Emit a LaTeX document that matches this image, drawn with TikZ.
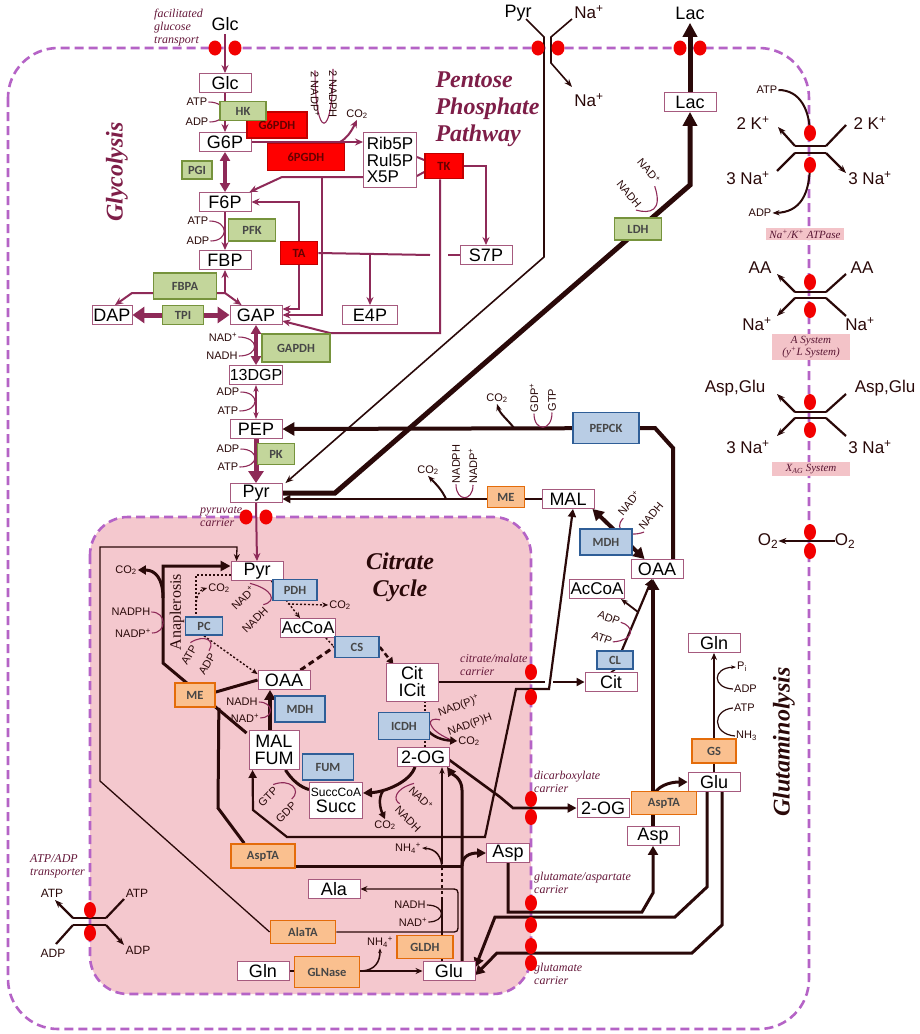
\documentclass[tikz,border=0pt]{standalone}
\usepackage{fontspec}
\setmainfont{Liberation Sans}
\newfontfamily\titlefont{Liberation Serif}
\newfontfamily\enzfont{Carlito}
\usetikzlibrary{arrows.meta,positioning,calc}
\definecolor{membr}{HTML}{B563C6}
\definecolor{mitopink}{HTML}{F4C8CE}
\definecolor{metline}{HTML}{A65A7E}
\definecolor{glyc}{HTML}{8E2A58}
\definecolor{dk}{HTML}{2A0909}
\definecolor{ttl}{HTML}{7E1E48}
\definecolor{greenfill}{HTML}{C3D69B}
\definecolor{greenline}{HTML}{76933C}
\definecolor{redfill}{HTML}{FF0000}
\definecolor{redline}{HTML}{C00000}
\definecolor{bluefill}{HTML}{B9CDE5}
\definecolor{blueline}{HTML}{2F5E97}
\definecolor{orangefill}{HTML}{FAC08F}
\definecolor{orangeline}{HTML}{E46C0A}
\definecolor{tagpink}{HTML}{F3C3C8}
\definecolor{blob}{HTML}{F20000}
\pgfdeclarelayer{bg}
\pgfdeclarelayer{links}
\pgfsetlayers{bg,links,main}
\tikzset{
  metbox/.style={draw=metline, fill=white, line width=0.9pt, inner sep=0pt,
    minimum width=52pt, minimum height=19pt, font=\fontsize{18}{18}\selectfont},
  enzbox/.style={draw, line width=1.7pt, inner sep=0pt,
    font=\enzfont\bfseries\fontsize{12.5}{12.5}\selectfont, text=black!72},
  greenenz/.style={enzbox, fill=greenfill, draw=greenline},
  redenz/.style={enzbox, fill=redfill, draw=redline, text=red!40!black},
  blueenz/.style={enzbox, fill=bluefill, draw=blueline},
  orangeenz/.style={enzbox, fill=orangefill, draw=orangeline},
  cofac/.style={font=\fontsize{11}{11}\selectfont, text=dk, inner sep=1pt},
  cofline/.style={draw=glyc, line width=1.1pt},
  glyarr/.style={draw=glyc, line width=2pt, -{Stealth[length=8pt,width=7pt]}},
  glyline/.style={draw=glyc, line width=2pt},
  darkarr/.style={draw=dk, line width=2.2pt, -{Triangle[length=8pt,width=8pt]}},
  darkline/.style={draw=dk, line width=3pt},
  thinarr/.style={draw=dk, line width=1.3pt, -{Stealth[length=7pt,width=6pt]}},
  dotline/.style={draw=dk, line width=1.4pt, dash pattern=on 2pt off 2pt},
  dotarr/.style={dotline, -{Stealth[length=6pt,width=5pt]}},
  membrane/.style={draw=membr, line width=2.6pt, dash pattern=on 9pt off 5pt},
  redblob/.style={fill=blob, draw=none},
  carrier/.style={font=\titlefont\itshape\fontsize{12}{13}\selectfont, text=ttl!80!black,
    align=left, inner sep=0pt},
  tagbox/.style={fill=tagpink, inner sep=2pt, font=\titlefont\itshape\fontsize{11}{12}\selectfont,
    text=ttl!70!black, align=center, minimum width=78pt},
  ion/.style={font=\fontsize{17}{17}\selectfont, text=dk, inner sep=0pt},
  pathtitle/.style={font=\titlefont\bfseries\itshape\fontsize{24}{27}\selectfont, text=ttl, align=left},
}
\newcommand{\chanH}[2]{%
  \fill[redblob] ({#1-10},#2) ellipse[x radius=6.5pt, y radius=7.5pt];
  \fill[redblob] ({#1+10},#2) ellipse[x radius=6.5pt, y radius=7.5pt];}
\newcommand{\chanV}[3]{%
  \fill[redblob] (#1,#2) ellipse[x radius=6pt, y radius=8pt];
  \fill[redblob] (#1,#3) ellipse[x radius=6pt, y radius=8pt];}

\begin{document}
\begin{tikzpicture}[x=1pt,y=-1pt]
\useasboundingbox (0,0) rectangle (920,1034);
\begin{pgfonlayer}{bg}
  \fill[white] (0,0) rectangle (920,1034);
  \draw[membrane, rounded corners=50pt] (8,48) rectangle (809,1029);
  \draw[membrane, fill=mitopink, rounded corners=38pt] (90,517) rectangle (531,994);
\end{pgfonlayer}

% titles
\node[pathtitle, anchor=west] (ppptitle) at (432,109) {Pentose\\Phosphate\\Pathway};
\node[pathtitle, rotate=90] (glytitle) at (117,172) {Glycolysis};
\node[pathtitle, text=dk, align=center] (tcatitle) at (400,577) {Citrate\\Cycle};
\node[pathtitle, text=dk, rotate=90] (glntitle) at (784,742) {Glutaminolysis};
\node[font=\titlefont\fontsize{16}{16}\selectfont, text=dk, rotate=90] (anaptitle) at (177,612) {Anaplerosis};

% carrier labels
\node[carrier, anchor=west] (glcport) at (154,28) {facilitated\\glucose\\transport};
\node[carrier, anchor=west] (pyrport) at (200,517) {pyruvate\\carrier};
\node[carrier, anchor=west] (citport) at (460,665) {citrate/malate\\carrier};
\node[carrier, anchor=west] (dicport) at (534,782) {dicarboxylate\\carrier};
\node[carrier, anchor=west] (gaport) at (534,883) {glutamate/aspartate\\carrier};
\node[carrier, anchor=west] (gluport) at (534,974) {glutamate\\carrier};
\node[carrier, anchor=west] (atpport) at (30,866) {ATP/ADP\\transporter};

% glycolysis and pentose phosphate
\node[font=\fontsize{18}{18}\selectfont] (glcout) at (225,24) {Glc};
\node[metbox] (glc) at (225,83) {Glc};
\node[metbox] (g6p) at (225,142) {G6P};
\node[metbox] (f6p) at (225,202) {F6P};
\node[metbox] (fbp) at (225,260) {FBP};
\node[metbox, minimum width=40pt] (dap) at (112,315) {DAP};
\node[metbox] (gap) at (256,315) {GAP};
\node[metbox, minimum width=55pt] (e4p) at (370,315) {E4P};
\node[metbox, font=\fontsize{16}{16}\selectfont] (dgp) at (256,375) {13DGP};
\node[metbox] (pep) at (256,429) {PEP};
\node[metbox] (pyr) at (256,493) {Pyr};
\node[metbox, align=left, font=\fontsize{17}{16.5}\selectfont, minimum width=53pt, minimum height=55pt] (pentp) at (390,160) {Rib5P\\Rul5P\\X5P};
\node[metbox] (s7p) at (486,255) {S7P};

\node[redenz, minimum width=60pt, minimum height=26pt] (g6pdh) at (277,125) {G6PDH};
\node[redenz, minimum width=77pt, minimum height=27pt] (pgdh) at (306,157) {6PGDH};
\node[greenenz, minimum width=46pt, minimum height=19pt] (hk) at (243,111) {HK};
\node[greenenz, minimum width=30pt, minimum height=18pt] (pgi) at (197,170) {PGI};
\node[redenz, minimum width=38pt, minimum height=25pt] (tk) at (444,166) {TK};
\node[greenenz, minimum width=47pt, minimum height=22pt] (pfk) at (252,230) {PFK};
\node[redenz, minimum width=37pt, minimum height=23pt] (ta) at (299,253) {TA};
\node[greenenz, minimum width=63pt, minimum height=26pt] (fbpa) at (185,286) {FBPA};
\node[greenenz, minimum width=41pt, minimum height=19pt] (tpi) at (183,315) {TPI};
\node[greenenz, minimum width=68pt, minimum height=28pt] (gapdh) at (296,348) {GAPDH};
\node[greenenz, minimum width=37pt, minimum height=21pt] (pk) at (276,454) {PK};

\node[cofac] (atphk) at (197,102) {ATP};
\node[cofac] (adphk) at (197,122) {ADP};
\node[cofac, rotate=-90] (nadpa) at (315,94) {2 NADP\textsuperscript{+}};
\node[cofac, rotate=-90] (nadpha) at (333,94) {2 NADPH};
\node[cofac] (co2ppp) at (357,114) {CO\textsubscript{2}};
\node[cofac] (atppfk) at (198,221) {ATP};
\node[cofac] (adppfk) at (198,241) {ADP};
\node[cofac] (nadgap) at (223,337) {NAD\textsuperscript{+}};
\node[cofac] (nadhgap) at (222,356) {NADH};
\node[cofac] (adppgk) at (228,392) {ADP};
\node[cofac] (atppgk) at (228,411) {ATP};
\node[cofac] (adppk) at (228,449) {ADP};
\node[cofac] (atppk) at (228,467) {ATP};

% cytosol
\node[font=\fontsize{18}{18}\selectfont] (pyrout) at (518,13) {Pyr};
\node[ion] (naout) at (589,12) {Na\textsuperscript{+}};
\node[ion] (nain) at (589,100) {Na\textsuperscript{+}};
\node[font=\fontsize{18}{18}\selectfont] (lacout) at (690,13) {Lac};
\node[metbox] (lac) at (690,102) {Lac};
\node[greenenz, minimum width=47pt, minimum height=22pt] (ldh) at (638,229) {LDH};
\node[cofac, rotate=-50] (nadldh) at (649,171) {NAD\textsuperscript{+}};
\node[cofac, rotate=-50] (nadhldh) at (629,194) {NADH};
\node[blueenz, minimum width=66pt, minimum height=31pt] (pepck) at (606,428) {PEPCK};
\node[cofac] (co2pepck) at (497,398) {CO\textsubscript{2}};
\node[cofac, rotate=90] (gdppepck) at (534,398) {GDP\textsuperscript{+}};
\node[cofac, rotate=90] (gtppepck) at (552,400) {GTP};
\node[orangeenz, minimum width=37pt, minimum height=21pt] (mec) at (506,497) {ME};
\node[metbox] (mal) at (568,499) {MAL};
\node[cofac] (co2mec) at (428,470) {CO\textsubscript{2}};
\node[cofac, rotate=90] (nadphmec) at (456,464) {NADPH};
\node[cofac, rotate=90] (nadpmec) at (473,466) {NADP\textsuperscript{+}};
\node[blueenz, minimum width=52pt, minimum height=26pt] (mdhc) at (606,542) {MDH};
\node[metbox] (oaa) at (657,569) {OAA};
\node[cofac, rotate=50] (nadmdhc) at (629,503) {NAD\textsuperscript{+}};
\node[cofac, rotate=50] (nadhmdhc) at (651,516) {NADH};
\node[metbox, minimum width=55pt, font=\fontsize{17}{17}\selectfont] (accoa) at (597,589) {AcCoA};
\node[blueenz, minimum width=36pt, minimum height=18pt] (cl) at (615,660) {CL};
\node[metbox] (cit) at (611,682) {Cit};
\node[cofac, rotate=-20] (adpcl) at (609,618) {ADP};
\node[cofac, rotate=-20] (atpcl) at (602,638) {ATP};
\node[metbox] (gln) at (714,643) {Gln};
\node[orangeenz, minimum width=44pt, minimum height=24pt] (gs) at (714,751) {GS};
\node[metbox] (glu) at (714,782) {Glu};
\node[cofac, anchor=west] (pigs) at (736,667) {P\textsubscript{i}};
\node[cofac, anchor=west] (adpgs) at (733,689) {ADP};
\node[cofac, anchor=west] (atpgs) at (733,708) {ATP};
\node[cofac, anchor=west] (nh3gs) at (735,736) {NH\textsubscript{3}};
\node[orangeenz, minimum width=65pt, minimum height=23pt] (asptac) at (664,803) {AspTA};
\node[metbox] (asp) at (653,836) {Asp};
\node[metbox] (og) at (603,808) {2-OG};

% mitochondrion
\node[metbox] (pyrm) at (257,571) {Pyr};
\node[blueenz, minimum width=44pt, minimum height=21pt] (pdh) at (295,590) {PDH};
\node[metbox, minimum width=55pt, font=\fontsize{17}{17}\selectfont] (acm) at (308,628) {AcCoA};
\node[blueenz, minimum width=37pt, minimum height=18pt] (pc) at (204,626) {PC};
\node[orangeenz, minimum width=40pt, minimum height=24pt] (mem) at (195,695) {ME};
\node[metbox] (oaam) at (284,680) {OAA};
\node[blueenz, minimum width=50pt, minimum height=26pt] (mdhm) at (300,709) {MDH};
\node[blueenz, minimum width=44pt, minimum height=21pt] (cs) at (357,647) {CS};
\node[metbox, align=center, minimum height=38pt, font=\fontsize{18}{17}\selectfont] (citm) at (412,682) {Cit\\ICit};
\node[blueenz, minimum width=51pt, minimum height=27pt] (icdh) at (404,726) {ICDH};
\node[metbox, align=center, minimum width=50pt, minimum height=39pt, font=\fontsize{18}{17}\selectfont] (malfum) at (274,750) {MAL\\FUM};
\node[blueenz, minimum width=51pt, minimum height=26pt] (fum) at (328,767) {FUM};
\node[metbox, align=center, minimum width=53pt, minimum height=36pt, font=\fontsize{18}{16}\selectfont] (succ) at (336,800) {{\fontsize{12}{12}\selectfont SuccCoA}\\Succ};
\node[metbox] (ogm) at (423,757) {2-OG};
\node[orangeenz, minimum width=64pt, minimum height=24pt] (asptam) at (263,856) {AspTA};
\node[metbox, minimum width=43pt] (aspm) at (508,853) {Asp};
\node[metbox] (ala) at (334,889) {Ala};
\node[orangeenz, minimum width=65pt, minimum height=23pt] (alata) at (303,932) {AlaTA};
\node[orangeenz, minimum width=56pt, minimum height=23pt] (gldh) at (425,947) {GLDH};
\node[metbox] (glnm) at (263,971) {Gln};
\node[orangeenz, minimum width=65pt, minimum height=31pt] (glnase) at (327,972) {GLNase};
\node[metbox] (glum) at (449,971) {Glu};

\node[cofac] (co2me) at (126,570) {CO\textsubscript{2}};
\node[cofac] (nadphme) at (131,612) {NADPH};
\node[cofac] (nadpme) at (133,633) {NADP\textsuperscript{+}};
\node[cofac] (co2pc) at (219,588) {CO\textsubscript{2}};
\node[cofac, rotate=60] (atppc) at (189,655) {ATP};
\node[cofac, rotate=60] (adppc) at (207,664) {ADP};
\node[cofac, rotate=45] (nadpdh) at (243,598) {NAD\textsuperscript{+}};
\node[cofac, rotate=45] (nadhpdh) at (255,620) {NADH};
\node[cofac] (co2pdh) at (340,605) {CO\textsubscript{2}};
\node[cofac] (nadhmdhm) at (242,702) {NADH};
\node[cofac] (nadmdhm) at (245,718) {NAD\textsuperscript{+}};
\node[cofac, rotate=20] (nadpicdh) at (459,706) {NAD(P)\textsuperscript{+}};
\node[cofac, rotate=20] (nadphicdh) at (470,725) {NAD(P)H};
\node[cofac] (co2icdh) at (469,741) {CO\textsubscript{2}};
\node[cofac, rotate=-45] (nadog) at (421,798) {NAD\textsuperscript{+}};
\node[cofac, rotate=-45] (nadhog) at (408,819) {NADH};
\node[cofac] (co2og) at (385,825) {CO\textsubscript{2}};
\node[cofac, rotate=45] (gtpsucc) at (268,797) {GTP};
\node[cofac, rotate=45] (gdpsucc) at (286,812) {GDP};
\node[cofac] (nh4gldh) at (408,848) {NH\textsubscript{4}\textsuperscript{+}};
\node[cofac] (nadhgldh) at (410,905) {NADH};
\node[cofac] (nadgldh) at (413,922) {NAD\textsuperscript{+}};
\node[cofac] (nh4gln) at (380,942) {NH\textsubscript{4}\textsuperscript{+}};

% plasma membrane transporters
\node[ion] (kl) at (753,123) {2 K\textsuperscript{+}};
\node[ion] (kr) at (870,123) {2 K\textsuperscript{+}};
\node[ion] (nal1) at (748,178) {3 Na\textsuperscript{+}};
\node[ion] (nar1) at (870,178) {3 Na\textsuperscript{+}};
\node[cofac] (atpnak) at (767,90) {ATP};
\node[cofac] (adpnak) at (760,213) {ADP};
\node[tagbox] (naktag) at (805,234) {Na\textsuperscript{+}/K\textsuperscript{+} ATPase};
\node[ion] (aal) at (760,268) {AA};
\node[ion] (aar) at (862,268) {AA};
\node[ion] (nal2) at (757,324) {Na\textsuperscript{+}};
\node[ion] (nar2) at (860,324) {Na\textsuperscript{+}};
\node[tagbox] (atag) at (811,347) {A System\\(y\textsuperscript{+}L System)};
\node[ion] (agl) at (735,388) {Asp,Glu};
\node[ion] (agr) at (885,388) {Asp,Glu};
\node[ion] (nal3) at (748,447) {3 Na\textsuperscript{+}};
\node[ion] (nar3) at (870,447) {3 Na\textsuperscript{+}};
\node[tagbox] (xtag) at (811,469) {X\textsubscript{AG} System};
\node[ion] (o2in) at (768,541) {O\textsubscript{2}};
\node[ion] (o2out) at (845,541) {O\textsubscript{2}};
\node[cofac, font=\fontsize{12}{12}\selectfont] (atpout) at (52,893) {ATP};
\node[cofac, font=\fontsize{12}{12}\selectfont] (atpin) at (137,893) {ATP};
\node[cofac, font=\fontsize{12}{12}\selectfont] (adpout) at (53,953) {ADP};
\node[cofac, font=\fontsize{12}{12}\selectfont] (adpin) at (138,950) {ADP};

% red carrier blobs
\chanH{225}{48}
\chanH{548}{48}
\chanH{690}{48}
\chanH{256}{517}
\chanV{531}{672}{697}
\chanV{531}{799}{817}
\chanV{531}{903}{925}
\chanV{531}{946}{963}
\chanV{90}{910}{933}
\chanV{810}{133}{165}
\chanV{810}{282}{310}
\chanV{810}{402}{430}
\chanV{810}{532}{551}

\begin{pgfonlayer}{links}
  % glycolysis
  \draw[glyarr] (glcout.south) -- (glc.north);
  \draw[glyarr] (glc.south) -- (g6p.north);
  \draw[glyc, line width=3.5pt, {Triangle[length=9pt,width=10pt]}-{Triangle[length=9pt,width=10pt]}] (g6p.south) -- (f6p.north);
  \draw[glyarr, line width=2.6pt] (g6p.east) -- (pentp.west |- g6p.east);
  \draw[glyarr] (f6p.south) -- (fbp.north);
  \draw[glyarr] (225,293) -- (fbp.south);
  \draw[glyarr] (225,293) -- (132,293) -- ($(dap.north)+(3,0)$);
  \draw[glyarr] (225,293) -- ($(gap.north west)+(12,0)$);
  \draw[glyc, line width=5pt, {Triangle[length=12pt,width=16pt]}-{Triangle[length=12pt,width=16pt]}] (dap.east) -- (gap.west);
  \draw[glyc, line width=3.5pt, {Triangle[length=9pt,width=10pt]}-{Triangle[length=9pt,width=10pt]}] (gap.south) -- (dgp.north);
  \draw[glyc, line width=2pt, {Stealth[length=7pt]}-{Stealth[length=7pt]}] (dgp.south) -- (pep.north);
  \draw[glyc, line width=5pt, -{Triangle[length=12pt,width=15pt]}] (pep.south) -- (pyr.north);
  \draw[cofline] (atphk.east) .. controls (229,102) and (229,122) .. (adphk.east);
  \draw[cofline] (atppfk.east) .. controls (229,221) and (229,241) .. (adppfk.east);
  \draw[cofline] (nadgap.east) .. controls (260,337) and (260,356) .. (nadhgap.east);
  \draw[cofline] (adppgk.east) .. controls (260,392) and (260,411) .. (atppgk.east);
  \draw[cofline] (adppk.east) .. controls (260,449) and (260,467) .. (atppk.east);
  % pentose phosphate
  \draw[cofline] (nadpa.west) .. controls (315,141) and (333,141) .. (nadpha.west);
  \draw[glyarr] (340,142) .. controls (347,138) and (351,132) .. (co2ppp.south);
  \draw[glyline] ($(pentp.east)+(0,-3)$) -- ($(tk.west)+(0,-6)$);
  \draw[glyline] ($(pentp.east)+(0,16)$) -- ($(tk.west)+(0,6)$);
  \draw[glyarr] (tk.east) -| (s7p.north);
  \draw[glyarr] ($(tk.south)+(-4,0)$) -- (440,333) -- (330,333) -- ($(gap.east)+(0,6)$);
  \draw[glyarr] ($(pentp.west)+(0,17)$) -- (282,177) -- ($(f6p.north east)+(-2,0)$);
  \draw[glyarr] (322,177) -- (322,315) -- (gap.east);
  \draw[glyarr] (ta.north) |- (f6p.east);
  \draw[glyarr] (ta.south) |- ($(gap.east)+(0,-6)$);
  \draw[glyline] (ta.east) -- (430,255);
  \draw[glyarr] (e4p.north |- ta.east) -- (e4p.north);
  \draw[glyline] (s7p.west) -- (448,255);
  % pyruvate, lactate
  \draw[dk, line width=1.6pt, -{Stealth[length=8pt]}] (526,19) -- (544,37) -- (544,257) -- ($(pyr.north east)+(3,0)$);
  \draw[dk, line width=1.6pt, -{Stealth[length=8pt]}] (572,19) -- (551,37) -- (551,63) -- (572,87);
  \draw[dk, line width=5pt, -{Triangle[length=14pt,width=14pt]}] (pyr.east) -- (335,493) -- (690,185) -- (lac.south);
  \draw[dk, line width=5pt, -{Triangle[length=14pt,width=14pt]}] (lac.north) -- (lacout.south);
  \draw[cofline] (nadhldh.south east) .. controls (650,214) and (663,211) .. (nadldh.south east);
  % gluconeogenesis
  \draw[dk, line width=4pt, -{Triangle[length=12pt,width=13pt]}] ($(oaa.north)+(16,0)$) -- (673,448) -- (655,428) -- (pep.east);
  \draw[dk, line width=2pt, -{Stealth[length=7pt]}] (514,428) .. controls (508,420) and (500,414) .. (co2pepck.south);
  \draw[cofline] (gdppepck.west) .. controls (534,432) and (552,432) .. (gtppepck.west);
  \draw[darkarr] (mal.west) -- ($(pyr.east)+(0,6)$);
  \draw[dk, line width=2pt, -{Stealth[length=7pt]}] (446,499) .. controls (442,490) and (436,484) .. (co2mec.south);
  \draw[cofline] (nadphmec.west) .. controls (456,502) and (473,502) .. (nadpmec.west);
  \draw[dk, line width=4pt, {Triangle[length=11pt,width=12pt]}-{Triangle[length=11pt,width=12pt]}] ($(mal.south east)+(-2,0)$) -- ($(oaa.north west)+(14,0)$);
  \draw[cofline] (nadmdhc.south west) .. controls (612,530) and (628,538) .. (nadhmdhc.south west);
  \draw[darkarr] ($(cl.north)+(7,0)$) -- ($(oaa.south)+(-5,0)$);
  \draw[dk, line width=1.8pt, -{Stealth[length=7pt]}] (638,612) -- ($(accoa.south east)+(-4,0)$);
  \draw[cofline] (adpcl.east) .. controls (634,626) and (636,640) .. (atpcl.east);
  \draw[dk, line width=1.5pt] (cit.north) -- (cl.south);
  % glutamine, aspartate
  \draw[thinarr] (glu.north) -- (gln.south);
  \draw[dk, line width=1.2pt] (nh3gs.west) .. controls (712,734) and (712,710) .. (atpgs.west);
  \draw[dk, line width=1.2pt, -{Stealth[length=5pt]}] (adpgs.west) .. controls (712,688) and (712,668) .. (pigs.west);
  \draw[dk, line width=4pt, -{Triangle[length=11pt,width=12pt]}] (asp.north) -- ($(oaa.south)+(-4,0)$);
  \draw[dk, line width=3pt, -{Triangle[length=9pt,width=10pt]}] (653,797) .. controls (656,786) and (670,782) .. (glu.west);
  \draw[dk, line width=3pt, -{Triangle[length=9pt,width=10pt]}] ($(glu.south)+(-7,0)$) -- (707,887) -- (675,917) -- (495,917) -- ($(glum.east)+(0,-4)$);
  \draw[dk, line width=3pt, -{Triangle[length=9pt,width=10pt]}] ($(glu.south)+(8,0)$) -- (722,925) -- (692,953) -- (497,953) -- ($(glum.east)+(0,4)$);
  \draw[dk, line width=3pt, -{Triangle[length=9pt,width=10pt]}] (aspm.south) -- (508,912) -- (642,912) -- (653,893) -- (asp.south);
  \draw[dk, line width=2.6pt, -{Triangle[length=9pt,width=9pt]}] ($(ogm.east)+(0,3)$) -- (500,797) -- (513,808) -- (og.west);
  % mitochondrion
  \draw[glyarr] (pyr.south) -- (pyrm.north);
  \draw[thinarr] (alata.west) -- (100,781) -- (100,547) -- (237,547) -- ($(pyrm.north west)+(6,0)$);
  \draw[dk, line width=3pt, -{Triangle[length=10pt,width=10pt]}] ($(malfum.north west)+(-2,3)$) -- (163,663) -- (163,566) -- ($(pyrm.west)+(0,-5)$);
  \draw[dk, line width=3pt, -{Triangle[length=8pt,width=9pt]}] (163,598) .. controls (163,578) and (155,570) .. (co2me.east);
  \draw[cofline] (nadphme.east) .. controls (167,612) and (167,633) .. (nadpme.east);
  \draw[darkline] ($(mem.east)+(0,-3)$) -- (oaam.west);
  \draw[darkline] ($(mem.south east)+(3,0)$) -- (218,808) -- ($(asptam.north west)+(14,0)$);
  \draw[darkline] ($(asptam.east)+(0,10)$) -- (462,866);
  \draw[dk, line width=3pt, -{Triangle[length=9pt,width=9pt]}] ($(glum.north)+(13,0)$) -- (462,790) .. controls (462,778) and (452,774) .. ($(ogm.south)+(24,0)$);
  \draw[dk, line width=3pt, -{Triangle[length=9pt,width=9pt]}] (462,866) .. controls (462,856) and (470,853) .. (aspm.west);
  \draw[dk, line width=1.5pt] ($(glum.north)+(-7,0)$) -- (442,900);
  \draw[dk, line width=1.5pt, dashed] (442,900) -- (442,862);
  \draw[dk, line width=1.5pt, -{Stealth[length=7pt]}] (442,862) -- ($(ogm.south)+(19,0)$);
  \draw[dk, line width=1.5pt, -{Stealth[length=5pt]}] (442,870) .. controls (442,856) and (436,849) .. (nh4gldh.east);
  \draw[dk, line width=1.2pt] (nadhgldh.east) .. controls (446,905) and (446,922) .. (nadgldh.east);
  \draw[thinarr] (glnm.east) -- (glum.west);
  \draw[dk, line width=1.5pt, -{Stealth[length=5pt]}] (362,971) .. controls (375,970) and (380,962) .. (nh4gln.south);
  \draw[thinarr] (alata.east) -- (450,932) .. controls (458,932) .. (458,924) -- (458,897) .. controls (458,889) .. (450,889) -- (ala.east);
  \draw[dotarr] ($(pyrm.south east)+(-12,0)$) -- ($(acm.north)+(-8,0)$);
  \draw[dotarr] (288,604) -- (co2pdh.west);
  \draw[cofline] (nadpdh.north east) .. controls (272,589) and (278,601) .. (nadhpdh.north east);
  \draw[dotline] ($(pyrm.west)+(0,4)$) -| ($(pc.north)+(-8,0)$);
  \draw[dotarr] (196,606) .. controls (196,596) and (200,590) .. (co2pc.west);
  \draw[dotarr] (pc.south) -- ($(oaam.north west)+(0,4)$);
  \draw[cofline] (atppc.north east) .. controls (204,634) and (216,640) .. (adppc.north east);
  \draw[dk, line width=3pt, dash pattern=on 6pt off 4pt] ($(oaam.north east)+(-10,0)$) -- (cs.west);
  \draw[dotline] ($(acm.south east)+(-10,0)$) -- (cs.west);
  \draw[dk, line width=2.5pt, dash pattern=on 5pt off 3pt, -{Triangle[length=7pt,width=7pt]}] (cs.east) -- ($(citm.north west)+(8,2)$);
  \draw[dotline] ($(citm.south)+(13,0)$) -- ($(ogm.north)+(2,0)$);
  \draw[dk, line width=2.5pt, -{Triangle[length=7pt,width=8pt]}] (426,728) .. controls (432,737) and (442,740) .. (co2icdh.west);
  \draw[cofline] (nadpicdh.south west) .. controls (426,716) and (426,729) .. (nadphicdh.south west);
  \draw[dk, line width=3pt, -{Triangle[length=9pt,width=9pt]}] ($(ogm.south)+(-8,0)$) .. controls (410,782) and (385,792) .. ($(succ.east)+(0,-7)$);
  \draw[dk, line width=2.5pt, -{Triangle[length=7pt,width=7pt]}] (383,791) .. controls (378,798) and (380,808) .. (co2og.north);
  \draw[cofline] (nadog.north west) .. controls (394,789) and (393,800) .. (nadhog.north west);
  \draw[dk, line width=3pt] ($(succ.north west)+(0,8)$) .. controls (300,787) and (292,780) .. ($(malfum.south east)+(-14,0)$);
  \draw[cofline] (gtpsucc.north east) .. controls (290,778) and (302,790) .. (gdpsucc.north east);
  \draw[dk, line width=4pt, -{Triangle[length=10pt,width=11pt]}] ($(malfum.north)+(-4,0)$) -- ($(oaam.south)+(-14,0)$);
  \draw[cofline] (nadhmdhm.east) .. controls (274,702) and (274,718) .. (nadmdhm.east);
  \draw[dk, line width=2.2pt, {Triangle[length=8pt,width=8pt]}-{Triangle[length=8pt,width=8pt]}] ($(malfum.south west)+(4,0)$) -- (253,810) -- (287,837) -- (485,837) -- (516,689) -- (549,689) -- ($(mal.south)+(5,0)$);
  \draw[dk, line width=2.2pt] (citm.east) -- (545,682);
  \draw[darkarr] (553,682) -- (cit.west);
  % plasma membrane transporters
  \draw[dk, line width=2.2pt] (795,146) -- (826,146) (795,153) -- (826,153);
  \draw[dk, line width=2.2pt, -{Stealth[length=8pt]}] (795,146) -- (778,127);
  \draw[dk, line width=2.2pt] (826,146) -- (846,125);
  \draw[dk, line width=2.2pt] (795,153) -- (777,171);
  \draw[dk, line width=2.2pt, -{Stealth[length=8pt]}] (826,153) -- (846,173);
  \draw[dk, line width=2pt] (atpnak.east) .. controls (800,90) and (810,110) .. (810,135);
  \draw[dk, line width=2pt, -{Stealth[length=7pt]}] (810,163) .. controls (810,195) and (800,212) .. (adpnak.east);
  \draw[dk, line width=2.2pt] (795,292) -- (826,292) (795,298) -- (826,298);
  \draw[dk, line width=2.2pt, -{Stealth[length=8pt]}] (795,292) -- (777,274);
  \draw[dk, line width=2.2pt] (826,292) -- (846,274);
  \draw[dk, line width=2.2pt, -{Stealth[length=8pt]}] (795,298) -- (777,316);
  \draw[dk, line width=2.2pt] (826,298) -- (846,316);
  \draw[dk, line width=2.2pt] (795,412) -- (826,412) (795,418) -- (826,418);
  \draw[dk, line width=2.2pt, -{Stealth[length=8pt]}] (795,412) -- (777,394);
  \draw[dk, line width=2.2pt] (826,412) -- (846,394);
  \draw[dk, line width=2.2pt, -{Stealth[length=8pt]}] (795,418) -- (777,436);
  \draw[dk, line width=2.2pt] (826,418) -- (846,436);
  \draw[dk, line width=2.2pt, -{Stealth[length=8pt]}] (o2out.west) -- (o2in.east);
  \draw[dk, line width=2.2pt] (73,918) -- (106,918) (73,925) -- (106,925);
  \draw[dk, line width=2.2pt, -{Stealth[length=8pt]}] (73,918) -- (55,900);
  \draw[dk, line width=2.2pt] (106,918) -- (124,899);
  \draw[dk, line width=2.2pt] (73,925) -- (56,944);
  \draw[dk, line width=2.2pt, -{Stealth[length=8pt]}] (106,925) -- (124,945);
\end{pgfonlayer}
\end{tikzpicture}
\end{document}
